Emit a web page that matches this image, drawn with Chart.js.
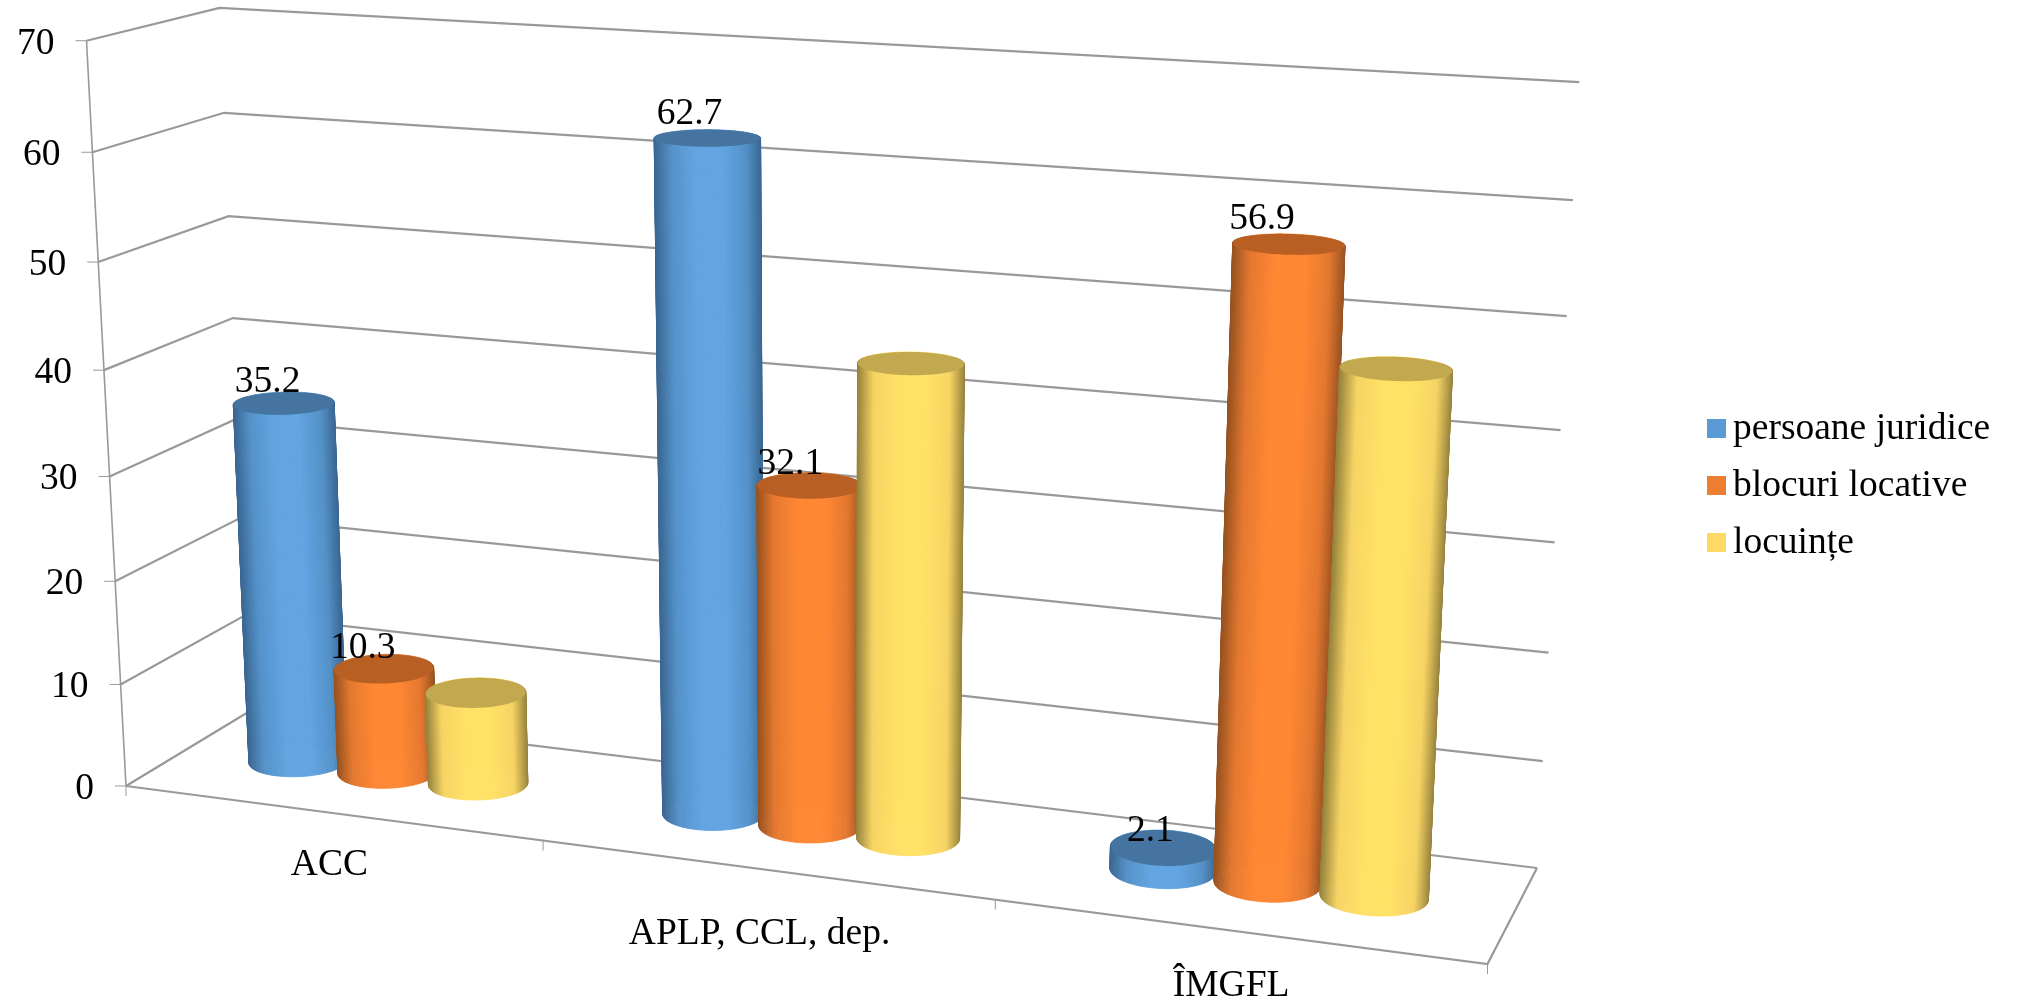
<!DOCTYPE html>
<html><head><meta charset="utf-8">
<style>html,body{margin:0;padding:0;background:#fff}canvas{display:block}</style>
<script src="https://cdn.jsdelivr.net/npm/chart.js@4"></script>
</head><body><canvas id="c" width="2017" height="1000"></canvas>
<script>
const categories = ["ACC", "APLP, CCL, dep.", "ÎMGFL"];
const seriesNames = ["persoane juridice", "blocuri locative", "locuințe"];
const persoaneJuridice = [35.2, 62.7, 2.1];
const blocuriLocative = [10.3, 32.1, 56.9];
const locuinte = [9, 44, 47];
const yTicks = [0, 10, 20, 30, 40, 50, 60, 70];

const FONT = '37.5px "Liberation Serif"';
const GRID = '#999999';
// Projection of the box: (u along categories, d into depth, v up) -> picture.
const cA=[126,786,1], cB=[1487.5,964,1], cC=[1537,868,1], cD=[250,711,1];
// picture positions of the wall lines, used to fit the upward direction: [u,d,v,x,y]
const upFit=[
 [0,0,1,87,43],[0,0,6/7,93,153],[0,0,5/7,99,263],[0,0,4/7,105,371],[0,0,3/7,111,477],[0,0,2/7,117,581],[0,0,1/7,121,684],
 [0,1,1,218,9],[0,1,6/7,222,114],[0,1,5/7,228,217],[0,1,4/7,232,318],
 [1,1,1,1579,80],[1,1,6/7,1573,198],[1,1,5/7,1567,314],[1,1,4/7,1561,428],[1,1,3/7,1555,541],[1,1,2/7,1550,652],[1,1,1/7,1544,762]];
function det3(m){return m[0][0]*(m[1][1]*m[2][2]-m[1][2]*m[2][1])-m[0][1]*(m[1][0]*m[2][2]-m[1][2]*m[2][0])+m[0][2]*(m[1][0]*m[2][1]-m[1][1]*m[2][0]);}
function solve3(a,b,c,r){const M=[[a[0],b[0],c[0]],[a[1],b[1],c[1]],[a[2],b[2],c[2]]];const D=det3(M);
  const rep=i=>det3(M.map((row,k)=>row.map((x,j)=>j===i?r[k]:x)))/D;return [rep(0),rep(1),rep(2)];}
const [lb,ld]=solve3(cB,cD,cC.map(x=>-x),cA);
const p1=cB.map((x,i)=>lb*x-cA[i]), p2=cD.map((x,i)=>ld*x-cA[i]);
function fitUp(){const rows=[],rhs=[];
  for(const [u,d,v,tx,ty] of upFit){const X=cA[0]+u*p1[0]+d*p2[0],Y=cA[1]+u*p1[1]+d*p2[1],W=1+u*p1[2]+d*p2[2];
    rows.push([v,0,-tx*v]);rhs.push(tx*W-X);rows.push([0,v,-ty*v]);rhs.push(ty*W-Y);}
  const col=i=>[0,1,2].map(j=>rows.reduce((s,r)=>s+r[i]*r[j],0));
  const r=[0,1,2].map(i=>rows.reduce((s,row,k)=>s+row[i]*rhs[k],0));
  return solve3(col(0),col(1),col(2),r);}
const p3=fitUp();
function proj(u,d,v){const X=cA[0]+u*p1[0]+d*p2[0]+v*p3[0],Y=cA[1]+u*p1[1]+d*p2[1]+v*p3[1],W=1+u*p1[2]+d*p2[2]+v*p3[2];return [X/W,Y/W];}
const uOf=(c,px)=>(px-c.chartArea.left)/c.chartArea.width;
const vOf=(c,py)=>(c.chartArea.bottom-py)/c.chartArea.height;

const styles=[
 {dark:[58,102,145],mid:[84,145,200],light:[98,165,226],top:'#44749f',legend:'#5b9bd5'},
 {dark:[150,82,32],mid:[228,120,48],light:[255,136,52],top:'#b86024',legend:'#ed7d31'},
 {dark:[150,130,60],mid:[247,212,100],light:[255,225,102],top:'#c2a84e',legend:'#ffd966'}];
function mix(a,b,t){return a.map((x,i)=>x+(b[i]-x)*t);}
function shade(s,t){const e=Math.abs(t-.5)*2;
  const col=e<.25?s.light:e<.7?mix(s.light,s.mid,(e-.25)/.45):mix(s.mid,s.dark,(e-.7)/.3);
  return 'rgb('+col.map(Math.round).join(',')+')';}
const DEPTH_CENTRE=.5, DEPTH_RADIUS=.19, STEPS=120, U_SHIFT=-.0015;
function cylinder(ctx,c,el,s){
  const uc=uOf(c,el.x)+U_SHIFT, ru=el.width/2/c.chartArea.width, top=vOf(c,el.y), base=vOf(c,el.base);
  const pts=[];
  for(let k=0;k<STEPS;k++){const th=k/STEPS*2*Math.PI;
    const u=uc+ru*Math.cos(th),d=DEPTH_CENTRE+DEPTH_RADIUS*Math.sin(th);
    pts.push({d,b:proj(u,d,base),t:proj(u,d,top)});}
  const xs=pts.map(p=>(p.b[0]+p.t[0])/2),x0=Math.min(...xs),x1=Math.max(...xs);
  const order=pts.map((p,i)=>i).sort((a,b)=>pts[b].d-pts[a].d);
  ctx.lineWidth=.8;
  for(const i of order){const a=pts[i],b=pts[(i+1)%STEPS];
    const col=shade(s,(xs[i]-x0)/(x1-x0));
    ctx.fillStyle=col;ctx.strokeStyle=col;ctx.beginPath();
    ctx.moveTo(a.b[0],a.b[1]);ctx.lineTo(b.b[0],b.b[1]);ctx.lineTo(b.t[0],b.t[1]);ctx.lineTo(a.t[0],a.t[1]);ctx.closePath();ctx.fill();ctx.stroke();}
  ctx.fillStyle=s.top;ctx.beginPath();pts.forEach((p,i)=>i?ctx.lineTo(p.t[0],p.t[1]):ctx.moveTo(p.t[0],p.t[1]));ctx.closePath();ctx.fill();
}
class CylinderController extends Chart.BarController{ draw(){} }
CylinderController.id='cylinder';
CylinderController.defaults=Chart.BarController.defaults;
CylinderController.overrides=Chart.BarController.overrides;
Chart.register(CylinderController);

function line(ctx,pts){ctx.beginPath();pts.forEach((p,i)=>i?ctx.lineTo(p[0],p[1]):ctx.moveTo(p[0],p[1]));ctx.stroke();}
const walls={id:'walls',beforeDatasetsDraw(c){const ctx=c.ctx,y=c.scales.y;ctx.save();ctx.lineJoin='miter';
  ctx.strokeStyle=GRID;ctx.lineWidth=2.2;
  y.ticks.forEach(t=>{const v=vOf(c,y.getPixelForValue(t.value));line(ctx,[proj(0,0,v),proj(0,1,v),proj(1,1,v)]);});
  line(ctx,[proj(0,0,0),proj(1,0,0),proj(1,1,0)]);
  ctx.lineWidth=1.6;line(ctx,[proj(0,0,0),proj(0,0,1)]);
  ctx.lineWidth=1;
  y.ticks.forEach(t=>{const p=proj(0,0,vOf(c,y.getPixelForValue(t.value)));line(ctx,[[p[0]-11,p[1]],p]);});
  for(let i=0;i<=categories.length;i++){const p=proj(i/categories.length,0,0);line(ctx,[p,[p[0],p[1]+10]]);}
  ctx.restore();}};
const catNudge=[[-1,52],[-5,65],[-5,55]];
const valueNudge=[[[-18,-21],[-20,-24],[-15,-17]],[[-23,-21],[-21,-22],[-29,-25]]];
const labels={id:'labels',afterDatasetsDraw(c){const ctx=c.ctx,y=c.scales.y,x=c.scales.x;ctx.save();
  c.data.datasets.forEach((ds,di)=>c.getDatasetMeta(di).data.forEach(el=>cylinder(ctx,c,el,styles[di])));
  ctx.font=FONT;ctx.fillStyle='#000';ctx.textBaseline='middle';
  ctx.textAlign='right';
  y.ticks.forEach(t=>{const p=proj(0,0,vOf(c,y.getPixelForValue(t.value)));ctx.fillText(t.label,p[0]-32,p[1]+3);});
  ctx.textAlign='center';
  categories.forEach((n,i)=>{const p=proj(uOf(c,x.getPixelForValue(i)),0,0);ctx.fillText(n,p[0]+catNudge[i][0],p[1]+catNudge[i][1]);});
  c.data.datasets.forEach((ds,di)=>{if(!ds.showValues)return;
    c.getDatasetMeta(di).data.forEach((el,i)=>{const p=proj(uOf(c,el.x),DEPTH_CENTRE,vOf(c,el.y));
      ctx.fillText(ds.data[i].toFixed(1),p[0]+valueNudge[di][i][0],p[1]+valueNudge[di][i][1]);});});
  ctx.textAlign='left';
  c.data.datasets.forEach((ds,i)=>{const yy=419+57*i;ctx.fillStyle=styles[i].legend;ctx.fillRect(1707,yy,19,19);
    ctx.fillStyle='#000';ctx.fillText(ds.label,1733,yy+10);});
  ctx.restore();}};

new Chart(document.getElementById('c'),{
  type:'cylinder',
  data:{labels:categories,datasets:[
    {label:seriesNames[0],data:persoaneJuridice,showValues:true},
    {label:seriesNames[1],data:blocuriLocative,showValues:true},
    {label:seriesNames[2],data:locuinte,showValues:false}]},
  options:{responsive:false,animation:false,
    layout:{padding:{left:100,right:300,top:50,bottom:50}},
    datasets:{cylinder:{categoryPercentage:.665,barPercentage:.985}},
    plugins:{legend:{display:false},tooltip:{enabled:false}},
    scales:{
      x:{type:'category',offset:true,display:false},
      y:{type:'linear',min:0,max:70,display:false,afterBuildTicks(s){s.ticks=yTicks.map(value=>({value}));}}
    }},
  plugins:[walls,labels]
});
</script></body></html>
